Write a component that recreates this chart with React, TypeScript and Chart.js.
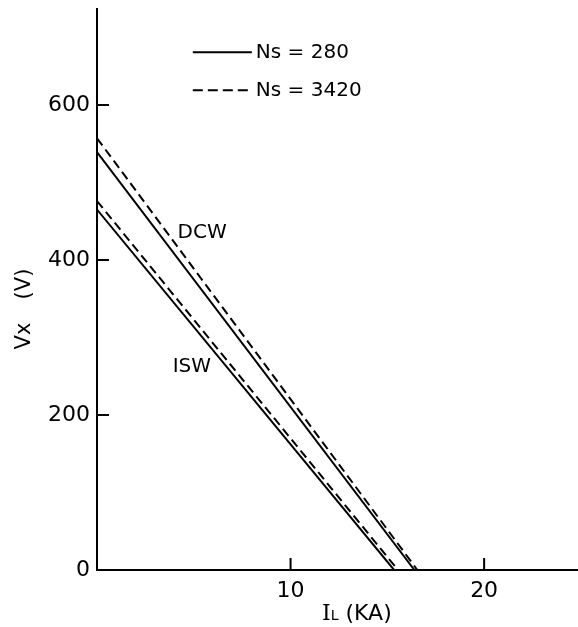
import React, { useEffect, useRef } from 'react';
import { Chart, registerables } from 'chart.js';

Chart.register(...registerables);

// ---- data ----
const seriesNames = ['DCW, Ns = 280', 'DCW, Ns = 3420', 'ISW, Ns = 280', 'ISW, Ns = 3420'];
const vxAtZeroCurrent = [539, 557, 465, 476]; // Vx (V) at IL = 0
const ilAtZeroVoltage = [16.4, 16.55, 15.35, 15.55]; // IL (kA) at Vx = 0
const dashedSeries = [false, true, false, true];
const xTickValues = [10, 20];
const yTickValues = [0, 200, 400, 600];
const legendLabels = ['Ns = 280', 'Ns = 3420'];
const curveLabels = ['DCW', 'ISW'];

const SANS = '"DejaVu Sans", sans-serif';
const SERIF = '"DejaVu Serif", serif';

const decorPlugin = {
  id: 'decor',
  afterDraw(chart: any) {
    const { ctx, chartArea: ca, scales } = chart;
    const x = scales.x;
    const y = scales.y;
    ctx.save();
    ctx.strokeStyle = '#000';
    ctx.fillStyle = '#000';
    ctx.lineWidth = 2;
    ctx.setLineDash([]);

    // axes
    ctx.beginPath();
    ctx.moveTo(ca.left, ca.top);
    ctx.lineTo(ca.left, ca.bottom);
    ctx.lineTo(ca.right, ca.bottom);
    ctx.stroke();

    // inward tick marks
    ctx.beginPath();
    xTickValues.forEach((v) => {
      const px = x.getPixelForValue(v);
      ctx.moveTo(px, ca.bottom);
      ctx.lineTo(px, ca.bottom - 12);
    });
    yTickValues.filter((v) => v > 0).forEach((v) => {
      const py = y.getPixelForValue(v);
      ctx.moveTo(ca.left, py);
      ctx.lineTo(ca.left + 12, py);
    });
    ctx.stroke();

    // legend
    const lx0 = x.getPixelForValue(4.95);
    const lx1 = x.getPixelForValue(8.0);
    const ly = [y.getPixelForValue(668), y.getPixelForValue(619)];
    ctx.font = `20px ${SANS}`;
    ctx.textAlign = 'left';
    ctx.textBaseline = 'middle';
    legendLabels.forEach((lab, i) => {
      ctx.beginPath();
      ctx.setLineDash(i === 0 ? [] : [10, 5]);
      ctx.moveTo(lx0, ly[i]);
      ctx.lineTo(lx1, ly[i]);
      ctx.stroke();
      ctx.setLineDash([]);
      ctx.fillText(lab, lx1 + 4, ly[i] + 1);
    });

    // curve labels
    ctx.font = `20px ${SANS}`;
    ctx.textAlign = 'center';
    ctx.fillText(curveLabels[0], x.getPixelForValue(5.43), y.getPixelForValue(435));
    ctx.fillText(curveLabels[1], x.getPixelForValue(4.9), y.getPixelForValue(262));

    // y axis title (rotated)
    ctx.save();
    ctx.translate(25, 310);
    ctx.rotate(-Math.PI / 2);
    ctx.font = `21px ${SANS}`;
    ctx.textAlign = 'center';
    ctx.textBaseline = 'middle';
    ctx.fillText('Vx', -26, 0);
    ctx.fillText('(V)', 26, 0);
    ctx.restore();

    // x axis title: I_L (KA)
    const ty = 620;
    let tx = 322;
    ctx.textAlign = 'left';
    ctx.textBaseline = 'alphabetic';
    ctx.font = `22px ${SERIF}`;
    ctx.fillText('I', tx, ty);
    tx += ctx.measureText('I').width;
    ctx.font = `14px ${SANS}`;
    ctx.fillText('L', tx, ty);
    tx += ctx.measureText('L').width + 7;
    ctx.font = `22px ${SANS}`;
    ctx.fillText('(KA)', tx, ty);

    ctx.restore();
  },
};

export default function App() {
  const canvasRef = useRef<HTMLCanvasElement | null>(null);

  useEffect(() => {
    const canvas = canvasRef.current;
    if (!canvas) return;
    const datasets = seriesNames.map((name, i) => ({
      label: name,
      data: [
        { x: 0, y: vxAtZeroCurrent[i] },
        { x: ilAtZeroVoltage[i], y: 0 },
      ],
      borderColor: '#000',
      borderWidth: 2,
      borderDash: dashedSeries[i] ? [9, 5] : [],
      pointRadius: 0,
      fill: false,
      tension: 0,
    }));

    const chart = new Chart(canvas, {
      type: 'line',
      data: { datasets },
      plugins: [decorPlugin],
      options: {
        responsive: false,
        animation: false,
        layout: { padding: { top: 8, left: 0, right: 0, bottom: 0 } },
        plugins: {
          legend: { display: false },
          tooltip: { enabled: false },
          title: { display: false },
        },
        scales: {
          x: {
            type: 'linear',
            min: 0,
            max: 24.85,
            grid: { display: false, drawTicks: false },
            border: { display: false },
            afterFit: (s: any) => {
              s.height = 57;
              s.paddingLeft = 0;
              s.paddingRight = 0;
            },
            afterBuildTicks: (s: any) => {
              s.ticks = xTickValues.map((v) => ({ value: v }));
            },
            ticks: {
              color: '#000',
              font: { family: SANS, size: 22 },
              padding: 8,
              maxRotation: 0,
              autoSkip: false,
            },
          },
          y: {
            type: 'linear',
            min: 0,
            max: 725,
            grid: { display: false, drawTicks: false },
            border: { display: false },
            afterFit: (s: any) => {
              s.width = 97;
              s.paddingTop = 0;
              s.paddingBottom = 0;
            },
            afterBuildTicks: (s: any) => {
              s.ticks = yTickValues.map((v) => ({ value: v }));
            },
            ticks: {
              color: '#000',
              font: { family: SANS, size: 22 },
              padding: 7,
              autoSkip: false,
            },
          },
        },
      },
    });
    return () => chart.destroy();
  }, []);

  return (
    <div style={{ position: 'fixed', left: 0, top: 0, width: 578, height: 627, background: '#fff' }}>
      <canvas ref={canvasRef} width={578} height={627} style={{ display: 'block' }} />
    </div>
  );
}
